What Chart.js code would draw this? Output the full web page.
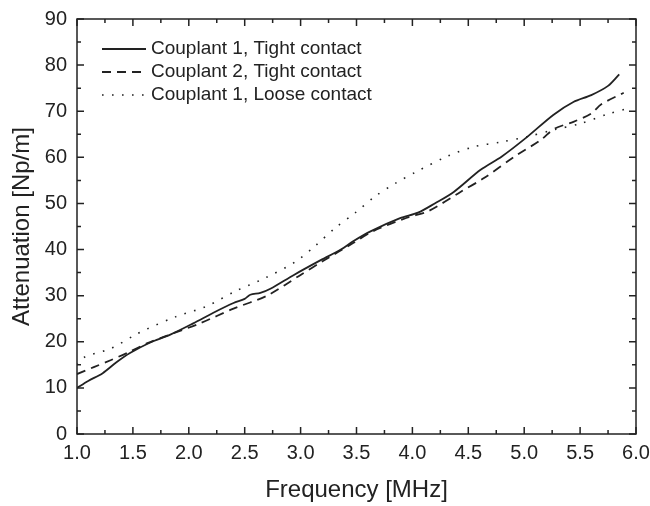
<!DOCTYPE html>
<html>
<head>
<meta charset="utf-8">
<script src="https://cdn.jsdelivr.net/npm/chart.js@4.4.1/dist/chart.umd.min.js"></script>
<style>
  html, body { margin: 0; padding: 0; background: #fff; }
  #wrap { width: 650px; height: 506px; }
</style>
</head>
<body>
<div id="wrap"><canvas id="chart"></canvas></div>
<script>
// data (frequency MHz, attenuation Np/m)
const c1TightX = [1.0, 1.1, 1.23, 1.35, 1.47, 1.65, 1.83, 2.04, 2.22, 2.4, 2.5, 2.55, 2.64, 2.73, 2.94, 3.18, 3.36, 3.47, 3.63, 3.89, 4.05, 4.2, 4.37, 4.61, 4.8, 5.03, 5.26, 5.44, 5.6, 5.75, 5.85];
const c1TightY = [10.0, 11.5, 13.2, 15.5, 17.5, 19.8, 21.5, 24.0, 26.3, 28.4, 29.3, 30.2, 30.6, 31.5, 34.5, 37.7, 40.0, 41.8, 44.0, 46.8, 48.0, 50.0, 52.5, 57.3, 60.2, 64.5, 69.2, 72.0, 73.5, 75.5, 78.0];

const c2TightX = [1.0, 1.15, 1.3, 1.45, 1.63, 1.8, 2.1, 2.4, 2.7, 3.0, 3.2, 3.47, 3.65, 3.95, 4.14, 4.43, 4.64, 4.91, 5.15, 5.27, 5.44, 5.6, 5.69, 5.89];
const c2TightY = [13.0, 14.5, 16.0, 17.6, 19.7, 21.3, 24.0, 27.2, 30.0, 34.5, 37.5, 41.4, 44.0, 46.9, 48.3, 52.5, 55.5, 60.1, 63.8, 66.2, 67.7, 69.5, 71.5, 74.0];

const c1LooseX = [1.0, 1.07, 1.3, 1.52, 1.61, 1.88, 2.15, 2.42, 2.68, 2.95, 3.13, 3.31, 3.49, 3.67, 3.85, 4.03, 4.31, 4.55, 4.79, 5.03, 5.27, 5.5, 5.75, 5.93];
const c1LooseY = [15.0, 16.7, 18.5, 21.5, 22.6, 25.4, 27.6, 31.0, 33.8, 37.3, 40.8, 44.7, 48.0, 51.6, 54.4, 56.8, 60.2, 62.3, 63.3, 64.5, 66.0, 67.3, 69.4, 70.6];

const seriesLabels = ["Couplant 1, Tight contact", "Couplant 2, Tight contact", "Couplant 1, Loose contact"];

const xMin = 1, xMax = 6, xStep = 0.5, xMinor = 0.25;
const yMin = 0, yMax = 90, yStep = 10, yMinor = 5;

const ink = "#222";
const fontFam = "'Liberation Sans', Arial, sans-serif";

function pts(xs, ys) {
  return xs.map((x, i) => ({ x: x, y: ys[i] }));
}

// inward tick marks on all four sides + closed frame
const frameTicks = {
  id: "frameTicks",
  afterDraw(chart) {
    const { ctx, chartArea: a, scales } = chart;
    const x = scales.x, y = scales.y;
    ctx.save();
    ctx.strokeStyle = ink;
    ctx.lineWidth = 1.5;
    ctx.strokeRect(a.left, a.top, a.right - a.left, a.bottom - a.top);
    ctx.beginPath();
    for (let v = xMin; v <= xMax + 1e-9; v += xMinor) {
      const px = x.getPixelForValue(v);
      const len = Math.abs(v / xStep - Math.round(v / xStep)) < 1e-6 ? 7 : 4;
      ctx.moveTo(px, a.bottom); ctx.lineTo(px, a.bottom - len);
      ctx.moveTo(px, a.top); ctx.lineTo(px, a.top + len);
    }
    for (let v = yMin; v <= yMax + 1e-9; v += yMinor) {
      const py = y.getPixelForValue(v);
      const len = v % yStep === 0 ? 7 : 4;
      ctx.moveTo(a.left, py); ctx.lineTo(a.left + len, py);
      ctx.moveTo(a.right, py); ctx.lineTo(a.right - len, py);
    }
    ctx.stroke();
    ctx.restore();
  }
};

// legend drawn inside the plot, top-left
const insideLegend = {
  id: "insideLegend",
  afterDraw(chart) {
    const { ctx, chartArea: a } = chart;
    ctx.save();
    ctx.font = "19px " + fontFam;
    ctx.fillStyle = ink;
    ctx.textBaseline = "middle";
    chart.data.datasets.forEach((ds, i) => {
      const yy = a.top + 30 + i * 23;
      ctx.strokeStyle = ds.borderColor;
      ctx.lineWidth = ds.borderWidth;
      ctx.setLineDash(ds.borderDash || []);
      ctx.beginPath();
      ctx.moveTo(a.left + 25, yy);
      ctx.lineTo(a.left + 69, yy);
      ctx.stroke();
      ctx.setLineDash([]);
      ctx.fillText(ds.label, a.left + 74, yy);
    });
    ctx.restore();
  }
};

const ctx = document.getElementById("chart");
new Chart(ctx, {
  type: "scatter",
  data: {
    datasets: [
      {
        label: seriesLabels[0],
        data: pts(c1TightX, c1TightY),
        showLine: true,
        borderColor: ink,
        borderWidth: 1.8,
        pointRadius: 0,
        tension: 0.3,
      },
      {
        label: seriesLabels[1],
        data: pts(c2TightX, c2TightY),
        showLine: true,
        borderColor: ink,
        borderWidth: 1.8,
        borderDash: [9, 6],
        pointRadius: 0,
        tension: 0.3,
      },
      {
        label: seriesLabels[2],
        data: pts(c1LooseX, c1LooseY),
        showLine: true,
        borderColor: ink,
        borderWidth: 1.6,
        borderDash: [1.6, 8.4],
        pointRadius: 0,
        tension: 0.3,
      },
    ],
  },
  options: {
    responsive: true,
    maintainAspectRatio: false,
    animation: false,
    layout: { padding: { top: 19, right: 0, left: 0, bottom: 0 } },
    plugins: {
      legend: { display: false },
      tooltip: { enabled: false },
    },
    scales: {
      x: {
        type: "linear",
        min: xMin,
        max: xMax,
        afterFit: (s) => {
          s.height = 72;
          s.paddingRight = 14;
        },
        afterBuildTicks: (s) => {
          s.ticks = [];
          for (let v = xMin; v <= xMax + 1e-9; v += xStep) s.ticks.push({ value: v });
        },
        ticks: {
          color: ink,
          font: { family: fontFam, size: 20 },
          padding: 7,
          maxRotation: 0,
          autoSkip: false,
          callback: (v) => Number(v).toFixed(1),
        },
        grid: { display: false, drawTicks: false },
        border: { display: false },
        title: {
          display: true,
          text: "Frequency [MHz]",
          color: ink,
          font: { family: fontFam, size: 24 },
          padding: { top: 0, bottom: 1 },
        },
      },
      y: {
        type: "linear",
        min: yMin,
        max: yMax,
        afterFit: (s) => {
          s.width = 77;
          s.paddingTop = 0;
          s.paddingBottom = 0;
        },
        afterBuildTicks: (s) => {
          s.ticks = [];
          for (let v = yMin; v <= yMax; v += yStep) s.ticks.push({ value: v });
        },
        ticks: {
          color: ink,
          font: { family: fontFam, size: 20 },
          padding: 10,
          autoSkip: false,
        },
        grid: { display: false, drawTicks: false },
        border: { display: false },
        title: {
          display: true,
          text: "Attenuation [Np/m]",
          color: ink,
          font: { family: fontFam, size: 24 },
          padding: { top: 8, bottom: 0 },
        },
      },
    },
  },
  plugins: [frameTicks, insideLegend],
});
</script>
</body>
</html>
